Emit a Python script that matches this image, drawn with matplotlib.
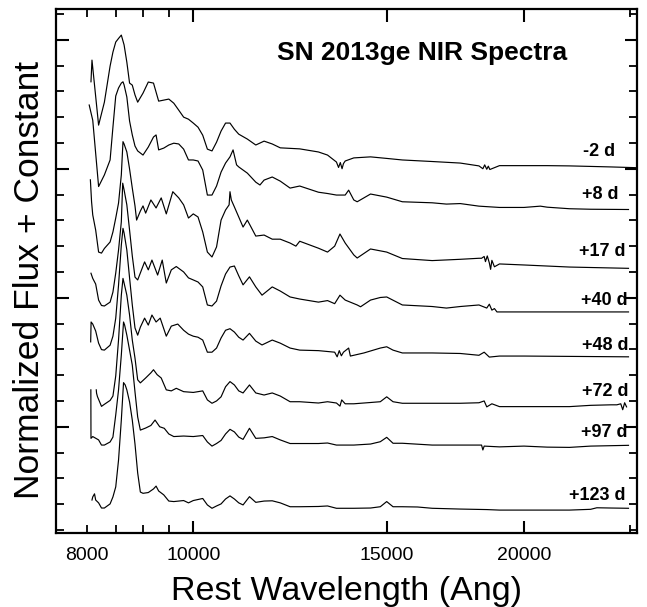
import matplotlib
matplotlib.use('Agg')
import matplotlib.pyplot as plt

plt.rcParams['font.family'] = ['Liberation Sans', 'DejaVu Sans']

# ---------------- data (wavelength in Angstrom, normalized flux + constant) ----------------
epochs = ['-2 d', '+8 d', '+17 d', '+40 d', '+48 d', '+72 d', '+97 d', '+123 d']

wave_m2 = [8070, 8087, 8200, 8300, 8400, 8450, 8500, 8550, 8600, 8650, 8700, 8750, 8800, 8850, 8900, 9000,
           9100, 9200, 9300, 9400, 9500, 9600, 9700, 9800, 9900, 10000, 10100, 10200, 10300, 10400, 10500,
           10600, 10700, 10800, 10900, 11000, 11200, 11400, 11600, 11800, 12000, 12500, 13000, 13250, 13500,
           13560, 13610, 13660, 13700, 13750, 14000, 14500, 15000, 15500, 16500, 17500, 18200, 18350, 18420,
           18500, 18560, 18620, 19000, 20000, 21000, 22000, 23000, 24000, 25340]
flux_m2 = [18.37, 19.21, 16.69, 17.58, 18.98, 19.52, 19.91, 20.05, 20.18, 19.80, 19.13, 18.32, 18.24, 17.86,
           17.58, 17.93, 18.36, 18.32, 17.62, 17.66, 17.70, 17.54, 17.27, 17.00, 16.92, 16.77, 16.61, 16.30,
           15.76, 15.69, 16.03, 16.46, 16.77, 16.77, 16.53, 16.34, 16.15, 15.92, 16.07, 15.96, 15.81, 15.77,
           15.65, 15.53, 15.26, 15.05, 15.24, 15.00, 15.20, 15.30, 15.42, 15.46, 15.40, 15.34, 15.28, 15.22,
           15.11, 15.00, 15.15, 14.98, 15.10, 14.97, 15.12, 15.12, 15.12, 15.11, 15.09, 15.07, 15.04]

wave_p8 = [8040, 8100, 8200, 8300, 8400, 8450, 8500, 8550, 8600, 8630, 8650, 8700, 8750, 8800, 8850, 8900,
           9000, 9100, 9200, 9250, 9300, 9400, 9500, 9600, 9700, 9800, 9900, 10000, 10100, 10200, 10300,
           10400, 10500, 10600, 10700, 10800, 10870, 10950, 11000, 11200, 11400, 11500, 11600, 11800, 12000,
           12250, 12500, 13000, 13250, 13500, 13750, 13850, 14000, 14100, 14500, 15000, 15500, 16500, 17000,
           17500, 18200, 19000, 20000, 20700, 21000, 22000, 23000, 24900]
flux_p8 = [17.47, 16.88, 14.31, 14.76, 15.34, 16.61, 17.82, 18.13, 18.32, 18.37, 18.25, 17.78, 16.85, 16.31,
           15.88, 15.69, 15.53, 15.84, 16.23, 16.31, 15.73, 15.80, 15.92, 15.99, 15.96, 15.76, 15.34, 15.34,
           15.30, 14.95, 13.98, 13.98, 14.33, 14.87, 15.22, 15.46, 15.73, 15.15, 15.07, 14.83, 14.48, 14.37,
           14.56, 14.68, 14.52, 14.25, 14.33, 14.09, 14.04, 13.98, 13.98, 14.17, 13.79, 13.72, 14.02, 13.90,
           13.72, 13.68, 13.63, 13.65, 13.55, 13.50, 13.50, 13.55, 13.51, 13.45, 13.43, 13.42]

wave_p17 = [8060, 8080, 8100, 8150, 8200, 8250, 8300, 8400, 8450, 8500, 8550, 8600, 8630, 8650, 8700, 8750,
            8800, 8850, 8880, 8950, 9000, 9050, 9150, 9250, 9350, 9450, 9580, 9700, 9800, 9900, 10000, 10100,
            10200, 10300, 10400, 10500, 10600, 10700, 10780, 10800, 10830, 10900, 11000, 11100, 11200, 11300,
            11400, 11600, 11800, 12000, 12250, 12400, 12500, 13000, 13250, 13450, 13600, 13750, 14000, 14100,
            14500, 15000, 15500, 16500, 17500, 18200, 18300, 18400, 18450, 18520, 18600, 18650, 18700, 18800,
            19000, 20000, 22000, 24900]
flux_p17 = [14.57, 13.72, 13.21, 12.62, 11.77, 11.73, 11.91, 12.16, 12.55, 13.09, 13.67, 14.76, 16.05, 15.96,
            15.65, 14.99, 14.25, 13.56, 13.01, 13.36, 13.56, 13.28, 13.79, 13.48, 13.87, 13.25, 14.11, 13.87,
            13.60, 13.09, 13.25, 13.13, 12.55, 11.77, 11.58, 11.97, 13.01, 13.40, 13.60, 14.11, 13.79, 13.52,
            13.13, 12.74, 13.01, 12.70, 12.39, 12.43, 12.27, 12.27, 12.12, 12.00, 12.19, 11.92, 11.77, 12.00,
            12.47, 12.12, 11.66, 11.54, 11.89, 11.77, 11.52, 11.44, 11.49, 11.53, 11.53, 11.60, 11.40, 11.62,
            11.35, 11.10, 11.45, 11.20, 11.31, 11.27, 11.19, 11.14]

wave_p40 = [8070, 8100, 8150, 8200, 8250, 8300, 8400, 8450, 8500, 8550, 8600, 8625, 8650, 8700, 8750, 8800,
            8850, 8900, 8950, 9030, 9100, 9170, 9280, 9370, 9450, 9550, 9650, 9800, 9900, 10000, 10100, 10200,
            10300, 10400, 10500, 10600, 10700, 10800, 10900, 11000, 11100, 11250, 11400, 11550, 11800, 12000,
            12250, 12500, 13000, 13250, 13450, 13600, 13750, 14100, 14200, 14500, 14800, 15000, 15500, 16500,
            17000, 17500, 18200, 18500, 18600, 18700, 18800, 18900, 20000, 22000, 24900]
flux_p40 = [10.95, 10.75, 10.53, 9.91, 9.70, 9.68, 9.83, 10.22, 10.96, 11.85, 12.94, 14.44, 14.18, 13.60,
            12.62, 11.62, 10.80, 10.69, 10.96, 11.39, 11.08, 11.46, 10.88, 11.46, 10.57, 11.08, 11.21, 11.00,
            10.77, 10.69, 10.61, 10.42, 9.72, 9.68, 9.87, 10.46, 10.92, 11.19, 11.23, 10.85, 10.50, 10.81,
            10.42, 10.10, 10.42, 10.26, 10.03, 9.95, 9.83, 9.89, 9.77, 10.10, 9.91, 9.72, 9.65, 9.91, 10.01,
            10.03, 9.72, 9.66, 9.60, 9.66, 9.72, 9.60, 9.75, 9.52, 9.58, 9.45, 9.45, 9.45, 9.45]

wave_p48 = [8065, 8072, 8100, 8150, 8200, 8250, 8300, 8400, 8450, 8500, 8550, 8600, 8630, 8650, 8700, 8750,
            8800, 8850, 8900, 8950, 9030, 9100, 9170, 9250, 9330, 9450, 9550, 9680, 9800, 9900, 10000, 10100,
            10200, 10300, 10400, 10500, 10600, 10700, 10800, 10900, 11000, 11100, 11250, 11400, 11550, 11800,
            12000, 12250, 12500, 13000, 13450, 13520, 13580, 13640, 13700, 13850, 13900, 14300, 14800, 15000,
            15200, 15500, 16500, 17500, 18200, 18400, 18600, 19000, 20000, 24900]
flux_p48 = [8.29, 9.06, 8.98, 8.71, 8.24, 7.99, 7.97, 8.16, 8.51, 9.21, 10.49, 12.04, 12.69, 12.51, 11.85,
            10.77, 9.72, 8.83, 8.55, 8.86, 9.21, 8.94, 9.33, 9.06, 9.21, 8.51, 8.90, 8.98, 8.74, 8.59, 8.51,
            8.47, 8.36, 7.89, 7.89, 8.05, 8.44, 8.74, 8.80, 8.67, 8.47, 8.36, 8.62, 8.32, 8.17, 8.36, 8.24,
            8.05, 7.97, 7.95, 7.89, 7.71, 7.95, 7.75, 7.89, 8.05, 7.74, 7.86, 8.05, 8.10, 7.97, 7.86, 7.86,
            7.84, 7.77, 7.89, 7.70, 7.74, 7.74, 7.71]

wave_p72 = [8160, 8165, 8180, 8250, 8300, 8400, 8450, 8500, 8550, 8600, 8630, 8650, 8700, 8750, 8800, 8850,
            8900, 8950, 9050, 9150, 9200, 9270, 9350, 9450, 9550, 9650, 9800, 10000, 10200, 10300, 10400,
            10500, 10600, 10700, 10800, 10900, 11000, 11100, 11250, 11400, 11600, 11800, 12000, 12250, 12500,
            13000, 13250, 13500, 13600, 13650, 13750, 14000, 14500, 14800, 15000, 15200, 15500, 16500, 17500,
            18200, 18400, 18500, 18700, 19000, 20000, 22000, 23000, 24000, 24300, 24500, 24600, 24700, 24800]
flux_p72 = [6.43, 6.30, 6.17, 5.79, 5.87, 6.02, 6.19, 6.97, 8.37, 10.10, 10.75, 10.57, 10.10, 9.33, 8.36,
            7.66, 6.82, 6.70, 6.89, 7.09, 7.21, 7.02, 6.89, 6.43, 6.39, 6.49, 6.36, 6.33, 6.39, 6.04, 5.91,
            6.00, 6.16, 6.55, 6.75, 6.62, 6.39, 6.31, 6.62, 6.31, 6.23, 6.31, 6.19, 5.97, 5.97, 5.92, 5.97,
            5.92, 5.80, 6.04, 5.89, 5.89, 5.94, 5.97, 6.16, 5.97, 5.91, 5.91, 5.91, 5.93, 6.00, 5.77, 5.89,
            5.78, 5.78, 5.78, 5.83, 5.85, 5.85, 5.89, 5.66, 5.93, 5.77]

wave_p97 = [8068, 8070, 8100, 8200, 8250, 8300, 8400, 8450, 8500, 8550, 8600, 8640, 8660, 8700, 8750, 8800,
            8850, 8900, 8950, 9050, 9150, 9230, 9320, 9410, 9500, 9600, 9800, 10000, 10200, 10300, 10400,
            10500, 10600, 10700, 10800, 10900, 11000, 11100, 11250, 11400, 11600, 11800, 12000, 12250, 12500,
            13000, 13250, 13500, 14000, 14500, 14800, 15000, 15200, 15500, 16500, 17500, 18300, 18350, 18400,
            19000, 20000, 21000, 22000, 23000, 24900]
flux_p97 = [6.43, 4.55, 4.62, 4.49, 4.29, 4.29, 4.41, 4.60, 5.46, 6.43, 7.78, 9.06, 8.94, 8.55, 7.97, 7.39,
            6.35, 5.38, 4.87, 4.95, 5.05, 5.26, 5.00, 4.94, 4.72, 4.62, 4.64, 4.62, 4.66, 4.41, 4.25, 4.35,
            4.47, 4.72, 4.90, 4.80, 4.60, 4.51, 4.94, 4.55, 4.57, 4.62, 4.49, 4.35, 4.35, 4.35, 4.37, 4.29,
            4.29, 4.33, 4.42, 4.59, 4.36, 4.36, 4.29, 4.29, 4.29, 4.10, 4.25, 4.22, 4.25, 4.21, 4.20, 4.25,
            4.28]

wave_p123 = [8087, 8100, 8130, 8150, 8200, 8250, 8300, 8400, 8450, 8500, 8550, 8600, 8640, 8670, 8700, 8750,
             8800, 8850, 8900, 8950, 9000, 9100, 9200, 9250, 9300, 9400, 9500, 9600, 9800, 9900, 10000, 10200,
             10300, 10400, 10500, 10600, 10700, 10800, 10900, 11000, 11100, 11250, 11400, 11600, 11800, 12000,
             12250, 12500, 13000, 13250, 13500, 14000, 14500, 14800, 15000, 15200, 15500, 16000, 16500, 17500,
             18500, 19000, 20000, 22000, 23000, 23300, 24000, 24900]
flux_p123 = [2.16, 2.28, 2.40, 2.16, 2.05, 1.85, 1.85, 2.01, 2.28, 2.67, 3.71, 5.26, 6.71, 6.62, 6.43, 5.96,
             5.26, 4.33, 3.21, 2.47, 2.42, 2.45, 2.59, 2.70, 2.51, 2.36, 2.12, 2.10, 2.14, 2.05, 2.14, 2.22,
             1.97, 1.84, 1.93, 2.01, 2.20, 2.32, 2.20, 2.05, 1.97, 2.29, 2.07, 2.12, 2.13, 2.05, 1.90, 1.90,
             1.91, 1.93, 1.84, 1.84, 1.85, 1.90, 2.10, 1.90, 1.90, 1.89, 1.84, 1.81, 1.79, 1.77, 1.77, 1.77,
             1.80, 1.86, 1.85, 1.84]

waves = [wave_m2, wave_p8, wave_p17, wave_p40, wave_p48, wave_p72, wave_p97, wave_p123]
fluxes = [flux_m2, flux_p8, flux_p17, flux_p40, flux_p48, flux_p72, flux_p97, flux_p123]

# epoch label anchor (right edge, wavelength) and height
label_x = [24210, 24370, 24730, 24880, 24880, 24880, 24830, 24730]
label_y = [15.66, 14.02, 11.79, 9.91, 8.14, 6.35, 4.77, 2.32]

major_x = [10000, 15000, 20000]
minor_x = [8000, 8500, 9000, 9500, 25000]
minor_x_labels = ['8000', '', '', '', '']

# ---------------- figure ----------------
fig = plt.figure(figsize=(6.47, 6.07), dpi=100)
ax = fig.add_axes([0.0866, 0.1214, 0.8980, 0.8633])

for w, f in zip(waves, fluxes):
    ax.plot(w, f, color='black', lw=0.85, solid_joinstyle='round')

for lab, lx, ly in zip(epochs, label_x, label_y):
    ax.text(lx, ly, lab, ha='right', va='center', fontsize=13, fontweight='bold')

ax.text(0.630, 0.9166, 'SN 2013ge NIR Spectra', transform=ax.transAxes, ha='center', va='center',
        fontsize=19, fontweight='bold')

ax.set_xscale('log')
ax.set_xlim(7500, 25350)
ax.set_ylim(0.87, 21.18)

ax.set_xticks(major_x, labels=[str(v) for v in major_x])
ax.set_xticks(minor_x, labels=minor_x_labels, minor=True)
ax.set_yticks([5, 10, 15, 20])
ax.set_yticks([v for v in range(1, 22) if v % 5 != 0], minor=True)

ax.tick_params(which='both', direction='in', top=True, right=True, labelleft=False,
               labelsize=14, pad=10, colors='black')
ax.tick_params(which='major', length=9, width=1.5)
ax.tick_params(which='minor', length=5.5, width=1.3)
for s in ax.spines.values():
    s.set_linewidth(1.6)

fig.text(0.5348, 0.0115, 'Rest Wavelength (Ang)', ha='center', va='baseline', fontsize=24.5)
fig.text(0.045, 0.539, 'Normalized Flux + Constant', ha='center', va='center', rotation=90, fontsize=25.5)

fig.savefig('out.png', dpi=100)
